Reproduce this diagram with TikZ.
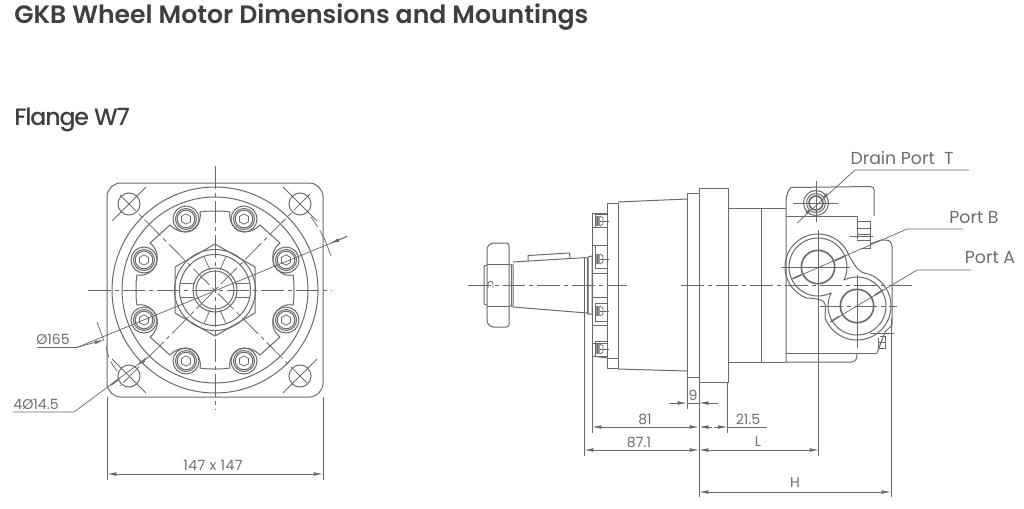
\documentclass[tikz,border=0pt]{standalone}
\usepackage{fontspec}
\usetikzlibrary{arrows.meta}
\setmainfont{Lato}
\newfontfamily\titlefont{Poppins SemiBold}
\newfontfamily\subfont[LetterSpace=-5]{Poppins Medium}
\newfontfamily\labelfont{Poppins}
\definecolor{ink}{HTML}{6A6A6A}
\definecolor{txt}{HTML}{6E6E6E}
\definecolor{head}{HTML}{3F3F3F}
\tikzset{
  ln/.style={draw=ink,line width=0.75pt},
  thin ln/.style={draw=ink,line width=0.55pt},
  thick ln/.style={draw=ink,line width=1.2pt},
  centre/.style={draw=ink,line width=0.6pt,dash pattern=on 17pt off 3pt on 3pt off 3pt},
  dim/.style={draw=ink,line width=0.6pt},
  both/.style={dim,{Latex[length=7pt,width=2.8pt]}-{Latex[length=7pt,width=2.8pt]}},
  tip/.style={dim,-{Latex[length=7pt,width=2.8pt]}},
  lab/.style={text=txt,font=\labelfont\fontsize{10.6}{11}\selectfont,inner sep=0pt},
  port/.style={text=txt,font=\labelfont\fontsize{13}{14}\selectfont,inner sep=0pt},
}
\begin{document}
\begin{tikzpicture}[x=0.75pt,y=-0.75pt]
\useasboundingbox (0,0) rectangle (1024,508);
\fill[white] (0,0) rectangle (1024,508);
% headings
\node[anchor=west,inner sep=0pt,text=head,font=\titlefont\fontsize{18.85}{22}\selectfont] (title) at (14,17) {GKB Wheel Motor Dimensions and Mountings};
\node[anchor=west,inner sep=0pt,text=head,font=\subfont\fontsize{17.8}{20}\selectfont] (sub) at (14,120) {Flange W7};

%%%%%%%%%%%% LEFT VIEW
\coordinate (c) at (215,290);
\draw[ln,rounded corners=10.5pt] (107,183) rectangle (323,397);
\draw[ln] (c) circle[radius=103];
\draw[ln] (c) circle[radius=93];
% plate outline
\foreach \sx/\sy in {1/1,-1/1,1/-1,-1/-1}{
\begin{scope}[shift={(c)},xscale=\sx,yscale=\sy]
\draw[ln] (0,-79) .. controls (5,-79) and (10,-79) .. (15,-78)
  .. controls (12,-62) and (30,-50) .. (45,-65) -- (65,-47)
  .. controls (50,-35) and (60,-12) .. (78,-15)
  .. controls (79,-10) and (79,-5) .. (79,0);
\end{scope}}
% bolts
\foreach \dx/\dy in {-29/-71,29/-71,-71/-30,71/-30,-71/30,71/30,-29/71,29/71}{
\begin{scope}[shift={(c)},shift={(\dx,\dy)}]
\draw[ln] (0,0) circle[radius=13];
\draw[ln] (0,0) circle[radius=10.5];
\draw[ln] (0,0) circle[radius=8.8];
\draw[thin ln] (-4.5,-2.6) -- (0,-5.2) -- (4.5,-2.6) -- (4.5,2.6) -- (0,5.2) -- (-4.5,2.6) -- cycle;
\end{scope}}
% nut
\draw[ln] (215,244) -- (255,267) -- (255,313) -- (215,336) -- (175,313) -- (175,267) -- cycle;
\draw[ln] (c) circle[radius=40.5];
\draw[ln] (c) circle[radius=35.5];
\draw[ln] (c) circle[radius=22];
\draw[ln] (c) circle[radius=19];
\foreach \sx in {1,-1}{
  \draw[thin ln] (215+\sx*20,283) -- (215+\sx*35,283);
  \draw[thin ln] (215+\sx*20,297) -- (215+\sx*35,297);
  \draw[thin ln] (215+\sx*5,270) -- (215+\sx*10.7,257);
  \draw[thin ln] (215+\sx*5,310) -- (215+\sx*10.7,323);
}
% holes
\foreach \hx/\hy/\ang in {129/204/45,300/204/-45,129/376/-45,300/376/45}{
\begin{scope}[shift={(\hx,\hy)},rotate=\ang]
\draw[ln] (0,0) circle[radius=11];
\draw[thin ln] (-24,0) -- (24,0);
\end{scope}}
% centre lines
\draw[centre] (88,290) -- (331,290);
\draw[centre] (215,166) -- (215,410);
\draw[centre] (120,195) -- (310,386);
\draw[centre] (310,194) -- (120,386);
% dia 165 dimension
\coordinate (dA) at (347,236.5);
\coordinate (dB) at (78,347);
\coordinate (dC) at (37,347);
\coordinate (dTa) at (330,243.5);
\coordinate (dTb) at (104,340);
\draw[thin ln] (dB) -- (dA);
\draw[thin ln] (dC) -- (dB);
\draw[tip] (dA) -- (dTa);
\draw[tip] (dB) -- (dTb);
\draw[thin ln] (97,322) -- (104,341);
\draw[thin ln] (325,240) -- (331,256);
\draw[thin ln,dash pattern=on 9pt off 3pt] (106,346) .. controls (108,358) and (112,365) .. (118,372);
\draw[thin ln,dash pattern=on 9pt off 3pt] (311,217) .. controls (316,224) and (321,232) .. (325,240);
\node[lab] (d165) at (53,339) {Ø165};
% 4 holes leader
\coordinate (hA) at (13,412);
\coordinate (hB) at (74,412);
\coordinate (hC) at (148,357);
\draw[thin ln] (hA) -- (hB) -- (hC);
\draw[line width=1.2pt,draw=ink] (111,385) -- (119,379);
\draw[line width=1.2pt,draw=ink] (139,364) -- (146,358.5);
\node[lab] (d145) at (36,404) {4Ø14.5};
% width
\coordinate (wL) at (107,474);
\coordinate (wR) at (323,474);
\draw[thin ln] (107,397) -- (107,480);
\draw[thin ln] (323,397) -- (323,480);
\draw[both] (wL) -- (wR);
\node[lab,font=\labelfont\fontsize{10.6}{11}\selectfont\addfontfeature{LetterSpace=3}] (d147) at (213,465) {147 x 147};

%%%%%%%%%%%% RIGHT VIEW
\draw[centre] (468,285) -- (627,285);
\draw[centre] (681,285) -- (913,285);
% shaft nut
\draw[ln,rounded corners=2pt] (509,243) -- (491,243) -- (487,247) -- (487,323) -- (491,327) -- (509,327) -- cycle;
\draw[ln] (487,264) -- (509,264);
\draw[ln] (487,306) -- (509,306);
\draw[ln] (487,265) -- (484,266) -- (484,304) -- (487,305);
\draw[ln] (509,264.5) -- (513,265) -- (513,306) -- (509,306);
\draw[thin ln] (511,265) -- (511,306);
\draw[thin ln] (488,288) -- (488,284) .. controls (488,280.5) and (493,280.5) .. (493,284) -- (493,288);
% taper
\draw[ln] (513,262) -- (587,257.5);
\draw[ln] (513,307) -- (587,313);
\draw[ln] (528,261) -- (528,255.5) -- (569.5,253) -- (570,258.5);
\draw[ln] (584,258) -- (584,313);
\draw[ln] (587,257.5) -- (587,313.5);
\draw[ln] (588,257) -- (592,256) -- (592,314) -- (588,314) -- cycle;
% back plate
\draw[ln] (592,213) -- (607,213);
\draw[ln] (592,213) -- (592,357);
\draw[ln] (592,356) -- (607,358);
\foreach \py in {227,245,273,297,325,343}{\draw[ln] (592,\py) -- (607,\py);}
\draw[ln] (607,203) rectangle (618,368);
\draw[ln] (607,358) -- (618,358);
% screws
\foreach \py/\a/\b in {221/-7/6,259/-14/9,311/-8/10,349/-8/7}{
\begin{scope}[shift={(0,\py)}]
\draw[thin ln] (595,\a) -- (607,\a);
\draw[thin ln] (595,\b) -- (607,\b);
\draw[thin ln] (595,\a) -- (595,\b);
\fill[ink!70] (596,-5) rectangle (600,5);
\draw[thin ln] (600,-5) -- (603,-3) -- (603,3) -- (600,5);
\draw[thin ln] (597,-5) -- (597,5);
\draw[thin ln] (600,0) -- (609,0);
\end{scope}}
% body
\draw[ln] (618,202) -- (687,199);
\draw[ln] (618,369) -- (687,371);
\draw[ln] (687,194) -- (687,377);
\draw[ln] (687,193) -- (699,193);
\draw[ln] (687,377) -- (699,377);
\draw[ln] (699,188) rectangle (728,382);
\draw[ln] (728,208) -- (786,208);
\draw[ln] (728,362) -- (786,362);
\draw[ln] (761,208) -- (761,362);
% housing
\draw[ln] (786,362) -- (786,202) .. controls (786,196) and (788,190) .. (791,187.5) -- (870,186.5)
  .. controls (873,186.5) and (874,188) .. (874,190) -- (874,216);
\draw[ln] (786,216) -- (857,216) -- (857,239);
\draw[ln] (857,221) -- (870,221) -- (870,248) -- (861,248);
\draw[thin ln] (857,228) -- (870,228);
\draw[thin ln] (857,234) -- (870,234);
\draw[thin ln] (857,240) -- (870,240);
\draw[thin ln] (850,236) -- (873,236);
\draw[ln] (870,244) .. controls (876,242) and (880,240) .. (882,240) -- (886,240) .. controls (890,240) and (892,243) .. (892,247) -- (892,325) -- (885,332) -- (877,353);
\draw[ln] (880,336) -- (885,336) -- (885,348) -- (878,348) -- (878,338);
\draw[thin ln] (878,342) -- (885,342);
\draw[thin ln] (870,333) -- (894,333);
\draw[ln] (786,362) -- (851,362) .. controls (856,362) and (857,359) .. (857,353);
\draw[ln] (786,353) -- (877,353);
% port flange rings
\coordinate (pB) at (818,267);
\coordinate (pA) at (857,306);
\draw[ln,samples=60] plot[domain=63:387] ({818+29*cos(\x)},{267+29*sin(\x)});
\draw[ln,samples=60] plot[domain=243:567] ({857+29*cos(\x)},{306+29*sin(\x)});
\draw[ln,samples=60] plot[domain=110:340] ({818+33*cos(\x)},{267+33*sin(\x)})
  .. controls (858,270) and (858,272) .. ({857+34*cos(290)},{306+34*sin(290)});
\draw[ln,samples=60] plot[domain=290:520] ({857+34*cos(\x)},{306+34*sin(\x)})
  .. controls (825,304) and (830,299) .. ({818+33*cos(110)},{267+33*sin(110)});
\draw[thick ln] (pB) circle[radius=16.7];
\draw[thick ln] (pA) circle[radius=16.7];
% port crosses
\draw[thin ln] (781,267) -- (850,267);
\draw[thin ln] (818,230) -- (818,456);
\draw[centre] (820,306) -- (897,306);
\draw[thin ln] (857,275) -- (857,348);
% drain
\coordinate (pT) at (816,203);
\draw[ln] (pT) circle[radius=12.5];
\draw[ln] (pT) circle[radius=9.5];
\draw[thick ln] (pT) circle[radius=7];
\draw[thin ln] (793,203) -- (838,203);
\draw[thin ln] (816,181) -- (816,222);
% leaders
\coordinate (lT1) at (797,223);
\coordinate (lT2) at (855,170);
\coordinate (lT3) at (969,170);
\draw[thin ln] (lT1) -- (lT2) -- (lT3);
\coordinate (lB1) at (792,279);
\coordinate (lB2) at (907,229);
\coordinate (lB3) at (963,229);
\draw[thin ln] (lB1) -- (lB2) -- (lB3);
\coordinate (lA1) at (830,322);
\coordinate (lA2) at (917,270);
\coordinate (lA3) at (971,270);
\draw[thin ln] (lA1) -- (lA2) -- (lA3);
% leader tips
\draw[draw=ink,line width=1.2pt] (806,213) -- (809,210.5);
\draw[draw=ink,line width=1.2pt] (824,197) -- (827,194);
\draw[draw=ink,line width=1.2pt] (793,278.5) -- (801,275);
\draw[draw=ink,line width=1.2pt] (835,260.5) -- (844,256.5);
\draw[draw=ink,line width=1.2pt] (831,321.5) -- (839,316.5);
\draw[draw=ink,line width=1.2pt] (875,295) -- (883,290);
\node[port] (nT) at (902,158) {Drain Port\ \ T};
\node[port] (nB) at (974,218) {Port B};
\node[port] (nA) at (990,258) {Port A};

%%%%%%%%%%%% DIMENSIONS
\draw[thin ln] (584,258) -- (584,456);
\draw[thin ln] (592,357) -- (592,433);
\draw[thin ln] (687,377) -- (687,409);
\draw[thin ln] (699,382) -- (699,497);
\draw[thin ln] (727.5,382) -- (727.5,433);
\draw[thin ln] (891,318) -- (891,497);
% 9
\coordinate (n1) at (669,403);
\coordinate (n2) at (718,403);
\draw[dim] (687,403) -- (699,403);
\draw[tip] (n1) -- (687,403);
\draw[tip] (n2) -- (699,403);
\node[lab] (d9) at (693,395) {9};
% 81 / 21.5
\coordinate (e1) at (592,427);
\coordinate (e2) at (699,427);
\coordinate (e3) at (727.5,427);
\coordinate (e4) at (767,427);
\draw[both] (e1) -- (e2);
\draw[tip] (712,427) -- (e2);
\draw[tip] (714,427) -- (e3);
\draw[dim] (e3) -- (e4);
\node[lab] (d81) at (645,419) {81};
\node[lab] (d215) at (748,419) {21.5};
% 87.1 / L
\coordinate (f1) at (584,450);
\coordinate (f2) at (699,450);
\coordinate (f3) at (819,450);
\draw[both] (f1) -- (f2);
\draw[both] (f2) -- (f3);
\node[lab] (d871) at (639,442) {87.1};
\node[lab] (dL) at (758,442) {L};
% H
\coordinate (g1) at (699,492);
\coordinate (g2) at (891,492);
\draw[both] (g1) -- (g2);
\node[lab] (dH) at (795,483) {H};
\end{tikzpicture}
\end{document}
